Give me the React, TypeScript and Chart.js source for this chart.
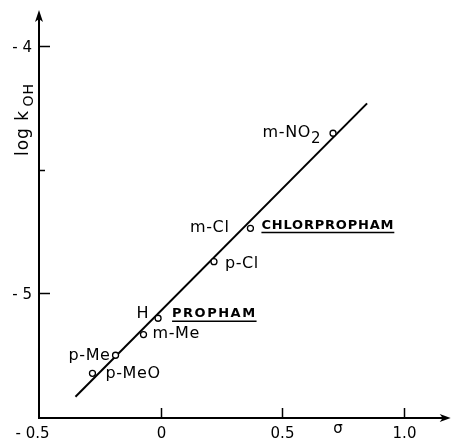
import React, { useEffect, useRef } from "react";
import { Chart, registerables } from "chart.js";

Chart.register(...registerables);

// ---- data ----
const substituents = ["p-MeO", "p-Me", "m-Me", "H", "p-Cl", "m-Cl", "m-NO2"];
const labelMain = ["p-MeO", "p-Me", "m-Me", "H", "p-Cl", "m-Cl", "m-NO"];
const labelSub = ["", "", "", "", "", "", "2"];
const compounds = ["", "", "", "PROPHAM", "", "CHLORPROPHAM", ""];
const sigma = [-0.28, -0.185, -0.07, -0.01, 0.22, 0.37, 0.71];
const logK = [-5.325, -5.252, -5.168, -5.102, -4.873, -4.738, -4.353];
const fitSigma = [-0.35, 0.85];
const fitLogK = [-5.42, -4.232];
const xTicks = [-0.5, 0, 0.5, 1.0];
const xTickLabels = ["- 0.5", "0", "0.5", "1.0"];
const yTicks = [-4, -4.5, -5];
const yTickLabels = ["- 4", "", "- 5"];
const xTitle = "σ";
const yTitle = "log k";
const yTitleSub = "OH";

// ---- style ----
const INK = "#000";
const FONT = "'DejaVu Sans', sans-serif";
const labelStyle = [
  { align: "left", dx: 13, dy: 5 },
  { align: "right", dx: -5, dy: 5 },
  { align: "left", dx: 9, dy: 3 },
  { align: "right", dx: -9, dy: 0 },
  { align: "left", dx: 11, dy: 6 },
  { align: "right", dx: -21, dy: 4 },
  { align: "right", dx: -12, dy: 4 },
];
const compoundStyle: Record<number, { dx: number; dy: number; ul: number; spacing: number }> = {
  3: { dx: 14, dy: -1, ul: 2.5, spacing: 1.5 },
  5: { dx: 11, dy: 1, ul: 3.7, spacing: 0.8 },
};

const annotate = {
  id: "annotate",
  afterDraw(chart: any) {
    const ctx: CanvasRenderingContext2D = chart.ctx;
    const xs = chart.scales.x;
    const ys = chart.scales.y;
    const ca = chart.chartArea;
    const X0 = xs.getPixelForValue(xs.min);
    const Y0 = ys.getPixelForValue(ys.min);
    ctx.save();
    ctx.strokeStyle = INK;
    ctx.fillStyle = INK;
    ctx.lineWidth = 2;
    ctx.lineCap = "butt";
    // y axis
    ctx.beginPath();
    ctx.moveTo(X0, Y0 + 1);
    ctx.lineTo(X0, ca.top + 4);
    ctx.stroke();
    ctx.beginPath();
    ctx.moveTo(X0, ca.top - 2);
    ctx.lineTo(X0 - 4, ca.top + 10);
    ctx.lineTo(X0, ca.top + 7);
    ctx.lineTo(X0 + 4, ca.top + 10);
    ctx.closePath();
    ctx.fill();
    // x axis
    ctx.beginPath();
    ctx.moveTo(X0 - 1, Y0);
    ctx.lineTo(ca.right - 3, Y0);
    ctx.stroke();
    ctx.beginPath();
    ctx.moveTo(ca.right + 1, Y0);
    ctx.lineTo(ca.right - 10, Y0 - 4);
    ctx.lineTo(ca.right - 7, Y0);
    ctx.lineTo(ca.right - 10, Y0 + 4);
    ctx.closePath();
    ctx.fill();

    // y ticks
    ctx.lineWidth = 1.5;
    ctx.font = `15px ${FONT}`;
    ctx.textAlign = "right";
    ctx.textBaseline = "alphabetic";
    yTicks.forEach((v, i) => {
      const py = Math.round(ys.getPixelForValue(v)) + 0.5;
      const len = yTickLabels[i] ? 11 : 6;
      ctx.beginPath();
      ctx.moveTo(X0, py);
      ctx.lineTo(X0 + len, py);
      ctx.stroke();
      if (yTickLabels[i]) ctx.fillText(yTickLabels[i], X0 - 7, py + 5.5);
    });
    // x ticks
    ctx.textAlign = "center";
    xTicks.forEach((v, i) => {
      const px = Math.round(xs.getPixelForValue(v)) + 0.5;
      if (v !== xs.min) {
        ctx.beginPath();
        ctx.moveTo(px, Y0);
        ctx.lineTo(px, Y0 - 10);
        ctx.stroke();
      }
      ctx.fillText(xTickLabels[i], px - (v < 0 ? 7 : 0), Y0 + 20);
    });
    // x title
    ctx.font = `15px ${FONT}`;
    ctx.fillText(xTitle, xs.getPixelForValue(0.73), Y0 + 15);

    // y title (rotated)
    ctx.save();
    ctx.translate(28, 118);
    ctx.rotate(-Math.PI / 2);
    ctx.letterSpacing = "1px";
    ctx.font = `17px ${FONT}`;
    const wMain = ctx.measureText(yTitle + " ").width;
    ctx.font = `14px ${FONT}`;
    const wSub = ctx.measureText(yTitleSub).width;
    const start = -(wMain + wSub) / 2;
    ctx.textAlign = "left";
    ctx.font = `17px ${FONT}`;
    ctx.fillText(yTitle, start, 0);
    ctx.font = `14px ${FONT}`;
    ctx.fillText(yTitleSub, start + wMain - 3, 5);
    ctx.letterSpacing = "0px";
    ctx.restore();

    // point labels
    ctx.textAlign = "left";
    substituents.forEach((_, i) => {
      const px = xs.getPixelForValue(sigma[i]);
      const py = ys.getPixelForValue(logK[i]);
      const st = labelStyle[i];
      ctx.font = `16px ${FONT}`;
      ctx.letterSpacing = "0.6px";
      const wm = ctx.measureText(labelMain[i]).width;
      ctx.font = `15px ${FONT}`;
      const ws = labelSub[i] ? ctx.measureText(labelSub[i]).width : 0;
      const total = wm + ws;
      const sx = st.align === "left" ? px + st.dx : px + st.dx - total;
      ctx.font = `16px ${FONT}`;
      ctx.fillText(labelMain[i], sx, py + st.dy);
      if (labelSub[i]) {
        ctx.font = `15px ${FONT}`;
        ctx.fillText(labelSub[i], sx + wm, py + st.dy + 6);
      }
      if (compounds[i]) {
        const cs = compoundStyle[i];
        ctx.font = `bold 13px ${FONT}`;
        ctx.letterSpacing = `${cs.spacing}px`;
        const cw = ctx.measureText(compounds[i]).width;
        const cx = px + cs.dx;
        ctx.fillText(compounds[i], cx, py + cs.dy);
        ctx.lineWidth = 1.5;
        ctx.beginPath();
        ctx.moveTo(cx, py + cs.ul + 0.5);
        ctx.lineTo(cx + cw, py + cs.ul + 0.5);
        ctx.stroke();
      }
      ctx.letterSpacing = "0px";
    });
    ctx.restore();
  },
};

export default function App() {
  const ref = useRef<HTMLCanvasElement>(null);
  useEffect(() => {
    if (!ref.current) return;
    const chart = new Chart(ref.current, {
      type: "scatter",
      data: {
        datasets: [
          {
            label: "substituents",
            data: sigma.map((s, i) => ({ x: s, y: logK[i] })),
            showLine: false,
            pointRadius: 3,
            pointBackgroundColor: "#fff",
            pointBorderColor: INK,
            pointBorderWidth: 1.3,
          },
          {
            label: "fit",
            data: fitSigma.map((s, i) => ({ x: s, y: fitLogK[i] })),
            showLine: true,
            borderColor: INK,
            borderWidth: 2,
            pointRadius: 0,
            fill: false,
          },
        ],
      },
      options: {
        responsive: false,
        animation: false,
        devicePixelRatio: 1,
        layout: { padding: { top: 12, right: 2, left: 0, bottom: 0 } },
        plugins: { legend: { display: false }, tooltip: { enabled: false } },
        scales: {
          x: {
            type: "linear",
            min: -0.5,
            max: 1.19,
            grid: { display: false },
            border: { display: false },
            ticks: { display: false },
            afterFit: (s: any) => {
              s.height = 22;
            },
          },
          y: {
            type: "linear",
            min: -5.506,
            max: -3.862,
            grid: { display: false },
            border: { display: false },
            ticks: { display: false },
            afterFit: (s: any) => {
              s.width = 39;
            },
          },
        },
      },
      plugins: [annotate],
    });
    return () => chart.destroy();
  }, []);
  return (
    <div style={{ position: "absolute", left: 0, top: 0, width: 455, height: 440, background: "#fff" }}>
      <canvas ref={ref} width={455} height={440} />
    </div>
  );
}
